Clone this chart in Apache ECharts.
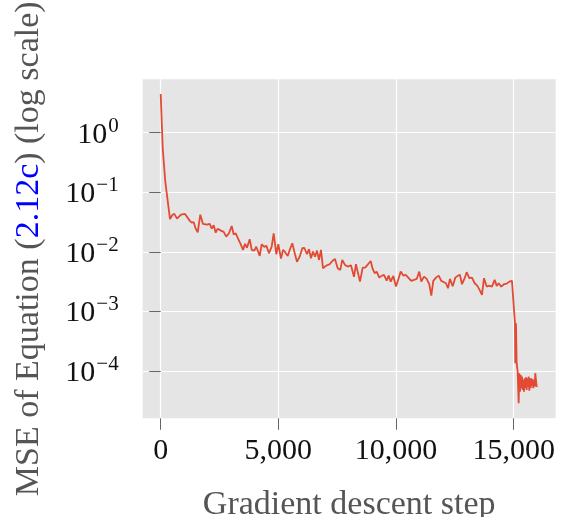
<!DOCTYPE html>
<html><head><meta charset="utf-8">
<script src="https://cdn.jsdelivr.net/npm/echarts@6/dist/echarts.min.js"></script>
<style>html,body{margin:0;padding:0;background:#fff}#c{width:563px;height:517px}</style>
</head><body><div id="c"></div>
<script>
const steps = [0,85,195,395,493,578,693,863,1033,1117,1232,1317,1402,1487,1572,1683,1797,1967,2082,2167,2252,2337,2422,2562,2677,2787,2902,3017,3102,3187,3297,3412,3497,3582,3667,3782,3867,3977,4062,4207,4292,4402,4487,4602,4716,4801,4912,4997,5112,5197,5282,5396,5507,5592,5706,5791,5906,6017,6102,6216,6301,6386,6471,6556,6641,6726,6811,6896,7036,7181,7291,7406,7521,7631,7716,7831,7946,8086,8213,8298,8468,8583,8693,8808,8923,9008,9093,9178,9288,9403,9488,9603,9688,9773,9883,9998,10113,10198,10308,10423,10538,10648,10763,10878,10988,11073,11188,11303,11413,11498,11583,11698,11812,11923,12037,12122,12207,12292,12407,12518,12632,12717,12802,12917,13002,13112,13227,13342,13452,13567,13652,13737,13852,13962,14077,14192,14277,14362,14472,14587,14702,14812,14927,14982,15054,15067,15097,15126,15169,15182,15211,15237,15267,15296,15322,15352,15381,15407,15437,15466,15492,15522,15551,15577,15607,15636,15662,15692,15721,15747,15777,15806,15832,15862,15891,15917,15947,15976,16002];
const mse = [4.46,0.547,0.151,0.0355,0.0416,0.0433,0.0361,0.0421,0.0433,0.0416,0.0334,0.0309,0.0314,0.0245,0.0213,0.0421,0.0294,0.0286,0.0294,0.0245,0.0279,0.0210,0.0245,0.0227,0.0216,0.0180,0.0205,0.0272,0.0195,0.0205,0.0163,0.0131,0.0108,0.0136,0.0117,0.0163,0.0108,0.0105,0.0122,0.00853,0.0134,0.0121,0.0127,0.00946,0.0122,0.0205,0.00912,0.0134,0.00769,0.0108,0.00995,0.00853,0.0115,0.0139,0.00912,0.00678,0.0083,0.0115,0.0117,0.00912,0.0111,0.00782,0.0101,0.0083,0.0105,0.00731,0.0108,0.00531,0.00587,0.00619,0.00703,0.0076,0.00531,0.00497,0.00731,0.00603,0.00565,0.00596,0.0038,0.00619,0.00316,0.00543,0.00543,0.00619,0.00703,0.00516,0.00438,0.00466,0.00369,0.00399,0.00409,0.00329,0.00399,0.00316,0.00394,0.00261,0.00361,0.00466,0.00399,0.00409,0.00361,0.00325,0.00338,0.00351,0.00466,0.00316,0.00384,0.00351,0.00286,0.00184,0.00325,0.00369,0.00399,0.00325,0.00309,0.00297,0.00245,0.00351,0.00265,0.00369,0.00399,0.00409,0.00286,0.00361,0.00455,0.00361,0.00369,0.00297,0.00271,0.00223,0.00189,0.00361,0.00261,0.00271,0.00261,0.00338,0.00268,0.00297,0.00261,0.00286,0.00293,0.00316,0.00325,0.00316,0.000634,0.000135,0.000634,0.000135,9.77e-5,9.77e-5,2.88e-5,9.18e-5,4.51e-5,8.61e-5,5.14e-5,8.05e-5,4.82e-5,7.10e-5,4.51e-5,7.57e-5,5.14e-5,7.87e-5,4.82e-5,7.57e-5,5.47e-5,8.05e-5,4.69e-5,7.57e-5,5.14e-5,7.57e-5,5.62e-5,7.28e-5,5.14e-5,7.10e-5,5.47e-5,9.18e-5,9.55e-5,5.47e-5,5.62e-5];
const xTicks = [0,5000,10000,15000];
const yTicks = [1e-4,1e-3,1e-2,1e-1,1];
const xTitle = 'Gradient descent step';
const yTitle = 'MSE of Equation ({b|2.12c}) (log scale)';

const FONT = '"Liberation Serif", "DejaVu Serif", serif';
const chart = echarts.init(document.getElementById('c'), null, {renderer:'canvas'});
chart.setOption({
  animation:false,
  backgroundColor:'#ffffff',
  grid:{left:142.7, right:7.3, top:79.3, bottom:98.7, show:true, backgroundColor:'#E5E5E5', borderWidth:0,
        containLabel:false, outerBoundsMode:'none'},
  xAxis:{
    type:'value', min:-765, max:16785,
    axisLine:{show:false},
    axisTick:{show:true, length:11.5, lineStyle:{color:'#666', width:1}, customValues:xTicks},
    axisLabel:{customValues:xTicks, margin:18, color:'#111', fontFamily:FONT, fontSize:30,
      formatter:v=>Number(v).toLocaleString('en-US')},
    splitLine:{show:true, lineStyle:{color:'#ffffff', width:1.2}},
    name:xTitle, nameLocation:'middle', nameGap:70,
    nameTextStyle:{color:'#555', fontFamily:FONT, fontSize:34}
  },
  yAxis:{
    type:'log', logBase:10, min:1.607e-5, max:7.87,
    axisLine:{show:false},
    axisTick:{show:true, length:11.5, lineStyle:{color:'#666', width:1}, customValues:yTicks},
    axisLabel:{customValues:yTicks, margin:24, color:'#111', fontFamily:FONT,
      formatter:v=>{const e=Math.round(Math.log10(v)); return '{m|10}{s|'+(e<0?'\u2212'+(-e):e)+'}';},
      rich:{m:{fontSize:30, fontFamily:FONT, color:'#111', lineHeight:34, verticalAlign:'bottom'},
            s:{fontSize:21, fontFamily:FONT, color:'#111', lineHeight:34, verticalAlign:'top', padding:[0,0,0,1]}}},
    splitLine:{show:true, lineStyle:{color:'#ffffff', width:1.2}},
    name:yTitle, nameLocation:'middle', nameGap:97, nameRotate:90,
    nameTextStyle:{color:'#555', fontFamily:FONT, fontSize:34,
      rich:{b:{color:'#0000FF', fontFamily:FONT, fontSize:34}}}
  },
  series:[{
    type:'line', showSymbol:false, symbol:'none',
    data: steps.map((s,i)=>[s, mse[i]]),
    lineStyle:{color:'#E24A33', width:1.8},
    itemStyle:{color:'#E24A33'}
  }]
});
</script>
</body></html>
